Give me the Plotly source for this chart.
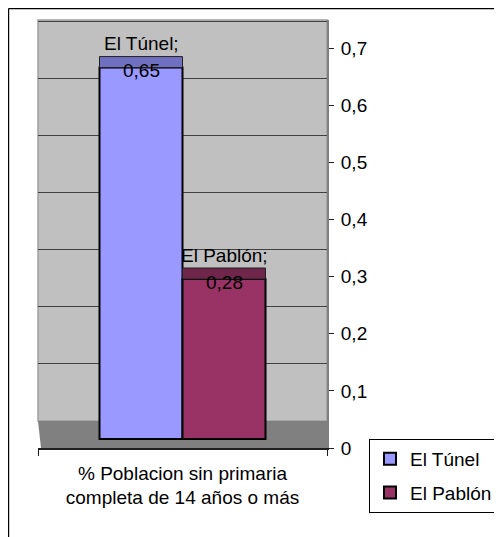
import plotly.graph_objects as go

# ---------------- data ----------------
category = "% Poblacion sin primaria<br>completa de 14 años o más"
series_names = ["El Túnel", "El Pablón"]
series_values = [0.65, 0.28]
front_colors = ["#9999ff", "#993366"]
top_colors = ["#7070c0", "#70264b"]
tick_vals = [0, 0.1, 0.2, 0.3, 0.4, 0.5, 0.6, 0.7]
tick_text = ["0", "0,1", "0,2", "0,3", "0,4", "0,5", "0,6", "0,7"]

# ---------------- layout geometry (pixels) ----------------
# page body has an 8px margin, so the figure is drawn 8px in from the window corner
OFF = 8
W, H = 502 - OFF, 537 - OFF
L, R, T, B = 38 - OFF, 175, 20 - OFF, 89
PW = W - L - R          # plot width
PH = H - T - B          # plot height
PX_PER_UNIT = 571.4     # vertical scale
WALL_SHIFT = 27         # 3D: wall floor sits 27 px above axis zero
BAR_SHIFT = 9           # 3D: bar fronts sit 9 px above axis zero
DEPTH = 11 / PX_PER_UNIT
BAR_W = 83 / PW

FONT = "Liberation Sans, Arial, sans-serif"
FS = 19

def rng(shift):
    lo = -shift / PX_PER_UNIT
    return [lo, lo + PH / PX_PER_UNIT]

def px_x(px):   # figure pixel -> paper x
    return (px - L) / PW

def px_y(py):   # figure pixel (from top) -> paper y
    return (H - B - py) / PH

fig = go.Figure()

# invisible anchors so the tick axis and the wall-grid axis are drawn
for ax in ["y", "y2"]:
    fig.add_trace(go.Scatter(x=[category], y=[0], mode="markers", yaxis=ax,
                             marker=dict(opacity=0), showlegend=False, hoverinfo="skip"))

offsets = [-BAR_W, 0.0]
for i, (name, val, fc, tc, off) in enumerate(zip(series_names, series_values, front_colors, top_colors, offsets)):
    fig.add_trace(go.Bar(
        x=[category], y=[val], name=name, width=[BAR_W], offset=[off],
        marker=dict(color=fc, line=dict(color="black", width=2)),
        yaxis="y3", showlegend=True, legendgroup="g%d" % i,
    ))
    fig.add_trace(go.Bar(
        x=[category], y=[DEPTH], base=[val], width=[BAR_W], offset=[off],
        marker=dict(color=tc, line=dict(color="#202020", width=1)),
        yaxis="y3", showlegend=False, hoverinfo="skip", legendgroup="g%d" % i,
    ))

annotations = []
for name, val, off in zip(series_names, series_values, offsets):
    xs = (off + BAR_W / 2) * PW
    label = ("%.2f" % val).replace(".", ",")
    annotations.append(dict(x=category, y=val, xref="x", yref="y3", text=label,
                            showarrow=False, xshift=xs, yshift=-3, yanchor="middle",
                            font=dict(family=FONT, size=FS, color="black")))
    annotations.append(dict(x=category, y=val, xref="x", yref="y3", text=name + ";",
                            showarrow=False, xshift=xs, yshift=24, yanchor="middle",
                            font=dict(family=FONT, size=FS, color="black")))

floor_top = WALL_SHIFT / PH
shapes = [
    # back wall
    dict(type="rect", xref="paper", yref="paper", x0=0, x1=1, y0=floor_top, y1=1,
         fillcolor="#c0c0c0", line=dict(color="#a0a0a0", width=1.5), layer="below"),
    # floor
    dict(type="path", xref="paper", yref="paper",
         path=f"M 0 {floor_top} L {3/PW} 0 L 1 0 L 1 {floor_top} Z",
         fillcolor="#808080", line=dict(width=0), layer="below"),
    # outer chart frame (top and left)
    dict(type="line", xref="paper", yref="paper",
         x0=px_x(0.6), x1=px_x(W + 5), y0=px_y(0.6), y1=px_y(0.6),
         line=dict(color="black", width=1.2)),
    dict(type="line", xref="paper", yref="paper",
         x0=px_x(0.6), x1=px_x(0.6), y0=px_y(0.6), y1=px_y(H + 5),
         line=dict(color="black", width=1.2)),
]

fig.update_layout(
    width=W, height=H, autosize=False,
    margin=dict(l=L, r=R, t=T, b=B, pad=0, autoexpand=False),
    paper_bgcolor="white", plot_bgcolor="rgba(0,0,0,0)",
    barmode="overlay",
    font=dict(family=FONT, size=FS, color="black"),
    xaxis=dict(type="category", range=[-0.5, 0.5], showgrid=False, zeroline=False,
               showline=True, linecolor="#202020", linewidth=1.5,
               ticks="outside", tickson="boundaries", ticklen=6, tickcolor="#202020",
               ticklabelstandoff=7, automargin=False,
               tickfont=dict(family=FONT, size=FS, color="black")),
    yaxis=dict(side="right", range=rng(0), tickvals=tick_vals, ticktext=tick_text,
               showgrid=False, zeroline=False, showline=True, linecolor="#808080",
               linewidth=2, ticks="outside", ticklen=5, tickcolor="#202020",
               ticklabelstandoff=3, automargin=False,
               tickfont=dict(family=FONT, size=FS, color="black")),
    yaxis2=dict(overlaying="y", side="right", range=rng(WALL_SHIFT), tickvals=tick_vals[1:],
                showgrid=True, gridcolor="#404040", gridwidth=1, zeroline=False,
                showticklabels=False, showline=False, ticks="", automargin=False),
    yaxis3=dict(overlaying="y", side="right", range=rng(BAR_SHIFT), visible=False,
                automargin=False),
    legend=dict(x=px_x(498 - OFF), y=px_y(439 - OFF), xanchor="right", yanchor="top",
                bgcolor="white", bordercolor="black", borderwidth=1,
                font=dict(family=FONT, size=FS, color="black"),
                tracegroupgap=6, itemwidth=30),
    shapes=shapes,
    annotations=annotations,
)

fig.write_html("out.html")
